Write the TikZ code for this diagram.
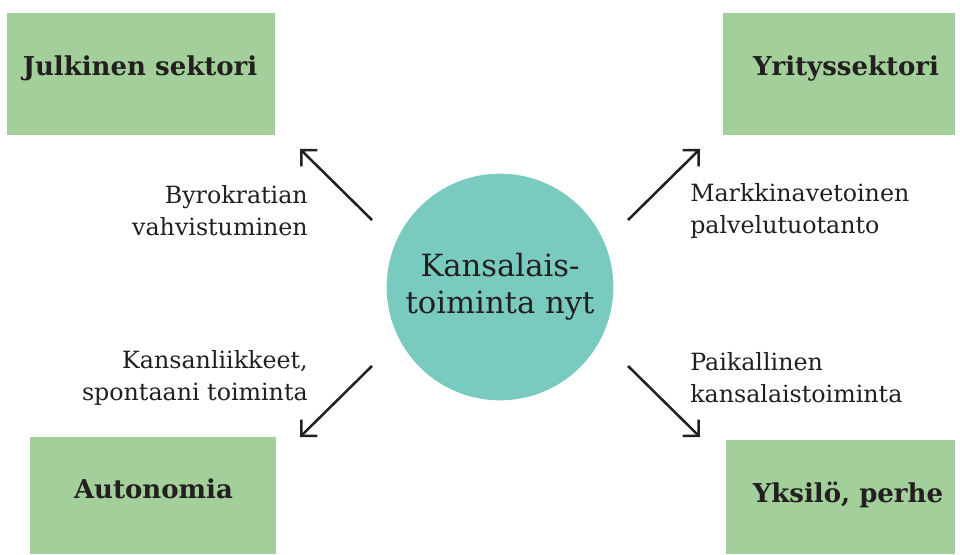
\documentclass[tikz,border=0pt]{standalone}
\usepackage{fontspec}
\setmainfont{DejaVu Serif}
\usetikzlibrary{arrows.meta}
\definecolor{boxgreen}{HTML}{A3CF9A}
\definecolor{circteal}{HTML}{7ACBBF}
\definecolor{inkblack}{HTML}{231F20}
\tikzset{
  sector/.style={fill=boxgreen,minimum height=91.5pt,inner sep=0pt},
  sectortext/.style={anchor=base,text=inkblack,font=\bfseries\fontsize{19.5}{22}\selectfont,inner sep=0pt},
  trend/.style={text=inkblack,font=\fontsize{17.8}{24}\selectfont,inner sep=0pt},
  flow/.style={-{Straight Barb[length=8.5pt,width=17pt,line width=1.9pt]},line width=1.9pt,draw=inkblack}
}
\begin{document}
\begin{tikzpicture}[x=0.75pt,y=-0.75pt]
    \useasboundingbox (0,0) rectangle (960,554);
    % sector boxes
    \node [sector,minimum width=201pt] (J) at (141,74) {};
    \node [sector,minimum width=174pt] (Y) at (839,74) {};
    \node [sector,minimum width=184.5pt,minimum height=87.75pt] (A) at (153,495.5) {};
    \node [sector,minimum width=171.75pt,minimum height=85.5pt] (P) at (840.5,497) {};
    \node [sectortext] (Jt) at (140,75) {Julkinen sektori};
    \node [sectortext] (Yt) at (846,75) {Yrityssektori};
    \node [sectortext] (At) at (153.5,498) {Autonomia};
    \node [sectortext] (Pt) at (848,502) {Yksilö, perhe};
    % centre
    \node [circle,fill=circteal,minimum size=170pt,inner sep=0pt,text=inkblack,
      font=\fontsize{23}{28}\selectfont,align=center] (K) at (500,287) {Kansalais-\\toiminta nyt};
    % trends
    \node [trend,anchor=east,align=right] (BV) at (308,211) {Byrokratian\\vahvistuminen};
    \node [trend,anchor=west,align=left] (MP) at (690,211) {Markkinavetoinen\\palvelutuotanto};
    \node [trend,anchor=east,align=right] (KS) at (308,378) {Kansanliikkeet,\\spontaani toiminta};
    \node [trend,anchor=west,align=left] (PK) at (690,378) {Paikallinen\\kansalaistoiminta};
    \coordinate (nw) at (372,220);
    \coordinate (ne) at (628,220);
    \coordinate (sw) at (372,366);
    \coordinate (se) at (628,366);
    \coordinate (nwtip) at (300,149);
    \coordinate (netip) at (700,149);
    \coordinate (swtip) at (300,437);
    \coordinate (setip) at (700,437);
    \draw [flow] (nw) -- (nwtip);
    \draw [flow] (ne) -- (netip);
    \draw [flow] (sw) -- (swtip);
    \draw [flow] (se) -- (setip);
  \end{tikzpicture}
\end{document}
